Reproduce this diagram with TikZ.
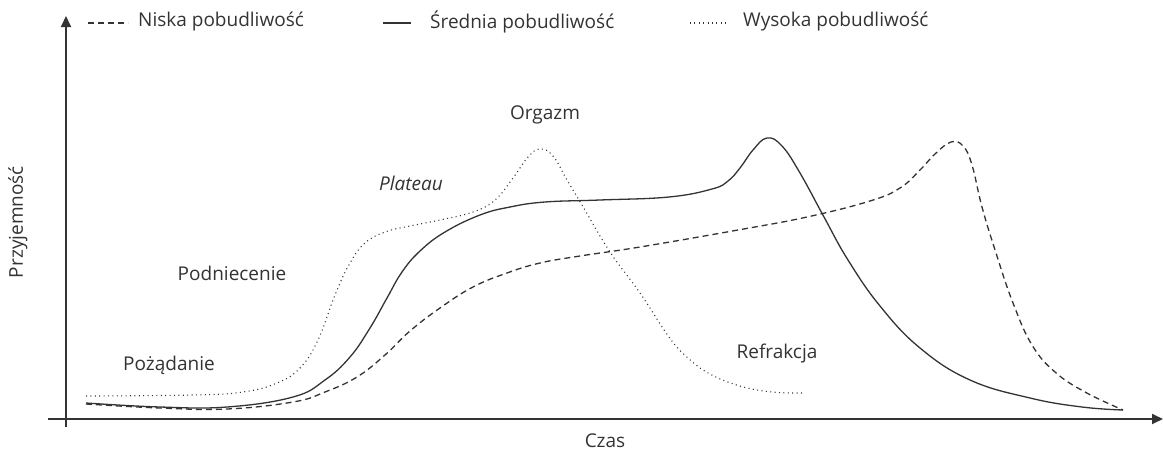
\documentclass[tikz,border=0pt]{standalone}
\usepackage{fontspec}
\setmainfont{Open Sans}
\usetikzlibrary{arrows.meta}
\definecolor{ink}{HTML}{333333}
\tikzset{
  axis/.style={draw=ink, line width=1.8pt},
  curve/.style={draw=ink, line width=1.3pt, line join=round},
  lowc/.style={curve, dash pattern=on 6pt off 4pt},
  midc/.style={curve},
  highc/.style={curve, line width=1.1pt, dash pattern=on 1pt off 3.4pt},
  lbl/.style={text=ink, font=\fontsize{19}{22}\selectfont, inner sep=0pt},
}
\begin{document}
\begin{tikzpicture}[x=1pt,y=-1pt]
\useasboundingbox (0,0) rectangle (1163,453);
% axes
\coordinate (yb) at (66,427);
\coordinate (yt) at (66,16);
\coordinate (xl) at (48,419);
\coordinate (xr) at (1163,419);
\draw[axis, -{Triangle[length=11pt,width=10pt]}] (yb) -- (yt);
\draw[axis, -{Triangle[length=11pt,width=10pt]}] (xl) -- (xr);
% legend
\coordinate (l1a) at (88,23); \coordinate (l1b) at (128,23);
\coordinate (l2a) at (383,23); \coordinate (l2b) at (411,23);
\coordinate (l3a) at (690,23); \coordinate (l3b) at (729,23);
\draw[lowc] (l1a) -- (l1b);
\draw[midc] (l2a) -- (l2b);
\draw[highc] (l3a) -- (l3b);
\node[lbl, anchor=west] (leg1) at (138,22) {Niska pobudliwość};
\node[lbl, anchor=west] (leg2) at (430,22) {Średnia pobudliwość};
\node[lbl, anchor=west] (leg3) at (743,22) {Wysoka pobudliwość};
% axis labels
\node[lbl, rotate=90] (ylab) at (18,222) {Przyjemność};
\node[lbl] (xlab) at (605,441) {Czas};
% phase labels
\node[lbl] (p1) at (169,365) {Pożądanie};
\node[lbl] (p2) at (232,273) {Podniecenie};
\node[lbl, font=\fontsize{19}{22}\selectfont\itshape] (p3) at (411,183) {Plateau};
\node[lbl] (p4) at (545,115) {Orgazm};
\node[lbl] (p5) at (777,354) {Refrakcja};
% high arousal (dotted)
\draw[highc] plot[smooth, tension=0.7] coordinates {
(86,396) (193,395) (243,392) (277,383) (300,368) (318,340) (335,295) (350,263)
(365,243) (385,232) (410,226) (440,220) (473,212) (495,200) (513,178) (528,157)
(540,149) (553,156) (567,180) (582,205) (610,252) (640,293) (669,337) (688,358)
(710,374) (740,386) (772,392) (803,393)};
% medium arousal (solid)
\draw[midc] plot[smooth, tension=0.7] coordinates {
(86,403) (160,407) (227,407) (293,397) (325,380) (350,357) (370,328) (387,298)
(402,272) (420,251) (445,232) (480,215) (510,207) (545,202) (600,200)
(669,197) (712,189) (728,181) (740,168) (753,150) (767,138) (782,146) (800,173)
(824,217) (848,260) (880,306) (920,348) (970,380) (1030,398) (1082,407) (1123,410)};
% low arousal (dashed)
\draw[lowc] plot[smooth, tension=0.7] coordinates {
(86,404) (160,408) (227,409) (293,402) (325,392) (357,377) (385,355) (410,331)
(440,308) (473,287) (507,273) (540,263) (580,256) (640,247) (738,230) (807,217)
(870,201) (900,188) (920,170) (935,154) (951,142) (963,146) (972,165) (982,207)
(996,253) (1013,303) (1032,345) (1055,372) (1085,392) (1123,410)};
\end{tikzpicture}
\end{document}
